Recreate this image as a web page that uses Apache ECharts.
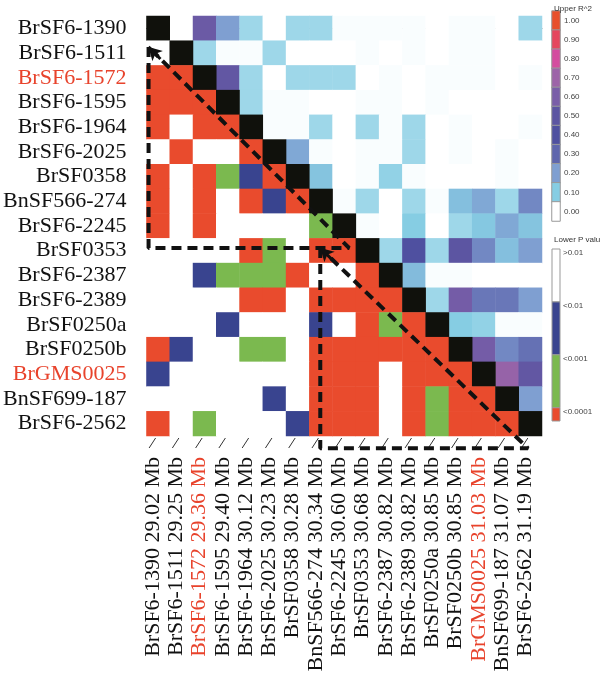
<!DOCTYPE html>
<html><head><meta charset="utf-8">
<script src="https://cdn.jsdelivr.net/npm/echarts@6/dist/echarts.min.js"></script>
<style>html,body{margin:0;padding:0;background:#fff}#c{width:600px;height:678px}</style>
</head><body><div id="c"></div>
<script>
// ---------- data ----------
const markers = ['BrSF6-1390','BrSF6-1511','BrSF6-1572','BrSF6-1595','BrSF6-1964','BrSF6-2025','BrSF0358','BnSF566-274','BrSF6-2245','BrSF0353','BrSF6-2387','BrSF6-2389','BrSF0250a','BrSF0250b','BrGMS0025','BnSF699-187','BrSF6-2562'];
const positionsMb = ['29.02','29.25','29.36','29.40','30.12','30.23','30.28','30.34','30.60','30.68','30.82','30.82','30.85','30.85','31.03','31.07','31.19'];
const highlighted = ['BrSF6-1572','BrGMS0025'];
// upper triangle: R^2 for columns row+1 .. 16
const upperR2 = [
  [0,0.55,0.2,0.08,0,0.08,0.08,0.005,0.005,0.005,0.005,0,0.005,0.005,0,0.08],
  [0.08,0.005,0.005,0.08,0,0,0,0.005,0,0.005,0,0.005,0.005,0,0],
  [0.52,0.08,0,0.08,0.08,0.08,0,0.005,0,0.005,0.005,0.005,0,0.005],
  [0.08,0.005,0.005,0,0,0.005,0.005,0,0.005,0,0,0,0],
  [0.005,0.005,0.08,0,0.08,0.005,0.08,0,0.005,0,0,0.005],
  [0.18,0.005,0,0.005,0.005,0.08,0,0.005,0,0.005,0],
  [0.12,0,0.005,0.09,0.005,0,0,0,0.005,0],
  [0.005,0.08,0,0.08,0.005,0.13,0.18,0.08,0.24],
  [0.005,0,0.1,0,0.08,0.11,0.18,0.12],
  [0.08,0.4,0.08,0.5,0.24,0.13,0.2],
  [0.14,0.005,0.005,0,0,0],
  [0.08,0.58,0.27,0.27,0.2],
  [0.1,0.09,0.005,0.005],
  [0.58,0.24,0.28],
  [0.68,0.52],
  [0.2],
  []
];
// lower triangle: P class for columns 0 .. row-1 (0: >0.01, 1: <0.01, 2: <0.001, 3: <0.0001)
const lowerP = [
  [],
  [0],
  [3,3],
  [3,3,3],
  [3,0,3,3],
  [0,3,0,0,3],
  [3,0,3,2,1,3],
  [3,0,3,0,3,1,3],
  [3,0,3,0,0,0,0,2],
  [0,0,0,0,3,2,0,3,3],
  [0,0,1,2,2,2,3,0,0,3],
  [0,0,0,0,3,3,0,3,3,3,3],
  [0,0,0,1,0,0,0,1,0,3,2,3],
  [3,1,0,0,2,2,0,3,3,3,3,3,3],
  [1,0,0,0,0,0,0,3,3,3,0,3,3,3],
  [0,0,0,0,0,1,0,3,3,3,0,3,2,3,3],
  [3,0,2,0,0,0,1,3,3,3,0,3,2,3,3,3]
];
const r2Ticks = ['1.00','0.90','0.80','0.70','0.60','0.50','0.40','0.30','0.20','0.10','0.00'];
const r2TickValues = [1,0.9,0.8,0.7,0.6,0.5,0.4,0.3,0.2,0.1,0];
const pLabels = ['>0.01','<0.01','<0.001','<0.0001'];
// annotation triangles (in cell units)
const triangle1 = [[-0.41,0.75],[-0.41,8.89],[8.21,8.89],[-0.41,0.75]];
const triangle2 = [[6.97,8.89],[6.97,17.0],[15.9,17.0],[6.97,8.89]];

// ---------- styles ----------
const r2Colors = ['#ffffff','#86cde3','#7f9fd1','#5f66ad','#4f50a0','#5c55a2','#7a5ea8','#9d64a8','#d44c9f','#e5465e','#e8502c'];
const pColors = ['#ffffff','#39448f','#7bb94f','#e94b2d'];
const diagColor = '#10110c';
const redText = '#e8432c';
const serif = 'Liberation Serif';

// ---------- build ----------
const upperData = [], lowerData = [];
upperR2.forEach((row, r) => row.forEach((v, k) => upperData.push([r + 1 + k, r, v])));
lowerP.forEach((row, r) => { row.forEach((v, c) => lowerData.push([c, r, v])); lowerData.push([r, r, 4]); });
const n = markers.length;

const richStyles = {
  b: {fontFamily: serif, fontSize: 22, color: '#111'},
  h: {fontFamily: serif, fontSize: 22, color: redText}
};
const tag = m => highlighted.includes(m) ? 'h' : 'b';

const chart = echarts.init(document.getElementById('c'), null, {renderer: 'canvas'});
chart.setOption({
  animation: false,
  backgroundColor: '#fff',
  title: [
    {text: 'Upper R^2', left: 549, top: 0, textStyle: {fontFamily: 'Liberation Sans', fontSize: 8, fontWeight: 'normal', color: '#333'}},
    {text: 'Lower P value', left: 549, top: 231, textStyle: {fontFamily: 'Liberation Sans', fontSize: 8, fontWeight: 'normal', color: '#333'}}
  ],
  grid: [
    {left: 146, top: 16, width: 396, height: 420},
    {left: 552, top: 11, width: 8, height: 210},
    {left: 552, top: 249, width: 8, height: 172}
  ],
  xAxis: [
    {type: 'category', gridIndex: 0, data: markers, position: 'bottom',
     axisLine: {lineStyle: {color: '#888', width: 1}}, axisTick: {show: false}, splitLine: {show: false},
     axisLabel: {interval: 0, rotate: 90, margin: 21, padding: [0, 0, 10, 0],
       formatter: (m, i) => `{${tag(m)}|${m} ${positionsMb[i]} Mb}`, rich: richStyles}},
    {type: 'value', gridIndex: 0, min: -0.5, max: 16.5, show: false},
    {type: 'category', gridIndex: 1, data: ['R2'], show: false},
    {type: 'value', gridIndex: 2, min: 0, max: 1, show: false}
  ],
  yAxis: [
    {type: 'category', gridIndex: 0, data: markers, inverse: true,
     axisLine: {show: false}, axisTick: {show: false}, splitLine: {show: false},
     axisLabel: {interval: 0, margin: 20, formatter: m => `{${tag(m)}|${m}}`, rich: richStyles}},
    {type: 'value', gridIndex: 0, min: -0.5, max: 16.5, inverse: true, show: false},
    {type: 'category', gridIndex: 1, data: r2Ticks, position: 'right', inverse: true,
     axisLine: {show: false}, axisTick: {show: false}, splitLine: {show: false},
     axisLabel: {interval: 0, margin: 4, fontFamily: 'Liberation Sans', fontSize: 8, color: '#444'}},
    {type: 'value', gridIndex: 2, min: 0, max: 3.25, interval: 1, inverse: true, position: 'right',
     axisLine: {show: false}, axisTick: {show: false}, splitLine: {show: false},
     axisLabel: {margin: 3, fontFamily: 'Liberation Sans', fontSize: 8, color: '#444', verticalAlign: 'top',
       showMaxLabel: false,
       formatter: v => (Number.isInteger(v) && v < pLabels.length) ? pLabels[v] : ''}}
  ],
  visualMap: [
    {type: 'continuous', show: false, seriesIndex: [0, 3], dimension: 2, min: 0, max: 1, inRange: {color: r2Colors}},
    {type: 'piecewise', show: false, seriesIndex: [1], dimension: 2,
     pieces: [{value: 0, color: pColors[0]}, {value: 1, color: pColors[1]}, {value: 2, color: pColors[2]}, {value: 3, color: pColors[3]}, {value: 4, color: diagColor}]}
  ],
  series: [
    {type: 'heatmap', xAxisIndex: 0, yAxisIndex: 0, data: upperData, emphasis: {disabled: true}},
    {type: 'heatmap', xAxisIndex: 0, yAxisIndex: 0, data: lowerData, emphasis: {disabled: true}},
    {type: 'custom', xAxisIndex: 0, yAxisIndex: 0, silent: true,
     data: markers.map((m, i) => [i, n - 1]),
     renderItem: (params, api) => {
       const p = api.coord([api.value(0), api.value(1)]);
       const yb = p[1] + api.size([1, 1])[1] / 2;
       return {type: 'line', shape: {x1: p[0] - 2.5, y1: yb + 2, x2: p[0] - 9, y2: yb + 12}, style: {stroke: '#333', lineWidth: 1}};
     }},
    {type: 'heatmap', xAxisIndex: 2, yAxisIndex: 2, data: r2TickValues.map((v, i) => [0, i, v]),
     itemStyle: {borderColor: '#999', borderWidth: 1}, emphasis: {disabled: true}},
    {type: 'custom', xAxisIndex: 3, yAxisIndex: 3, silent: true,
     data: pLabels.map((l, i) => [0.5, i]),
     renderItem: (params, api) => {
       const i = api.value(1);
       const p0 = api.coord([0, i]), p1 = api.coord([1, i + 1]);
       const cs = params.coordSys;
       const rect = echarts.graphic.clipRectByRect(
         {x: p0[0], y: p0[1], width: p1[0] - p0[0], height: p1[1] - p0[1]},
         {x: cs.x, y: cs.y, width: cs.width, height: cs.height});
       return rect && {type: 'rect', shape: rect, style: {fill: pColors[i], stroke: '#999', lineWidth: 1}};
     }},
    {type: 'line', xAxisIndex: 1, yAxisIndex: 1, data: triangle1, clip: false, showSymbol: false, symbol: 'none',
     lineStyle: {color: '#111', width: 4, type: [10, 6]}, z: 5,
     markLine: {silent: true, symbol: ['none', 'arrow'], symbolSize: [11, 13], label: {show: false},
       lineStyle: {color: '#111', width: 3, type: 'solid'},
       data: [[{coord: [0.1, 1.24]}, {coord: [-0.41, 0.75]}]]}},
    {type: 'line', xAxisIndex: 1, yAxisIndex: 1, data: triangle2, clip: false, showSymbol: false, symbol: 'none',
     lineStyle: {color: '#111', width: 4, type: [10, 6]}, z: 5,
     markLine: {silent: true, symbol: ['none', 'arrow'], symbolSize: [11, 13], label: {show: false},
       lineStyle: {color: '#111', width: 3, type: 'solid'},
       data: [[{coord: [7.5, 9.38]}, {coord: [6.97, 8.89]}], [{coord: [15.36, 16.51]}, {coord: [15.9, 17.0]}]]}}
  ]
});
</script></body></html>
